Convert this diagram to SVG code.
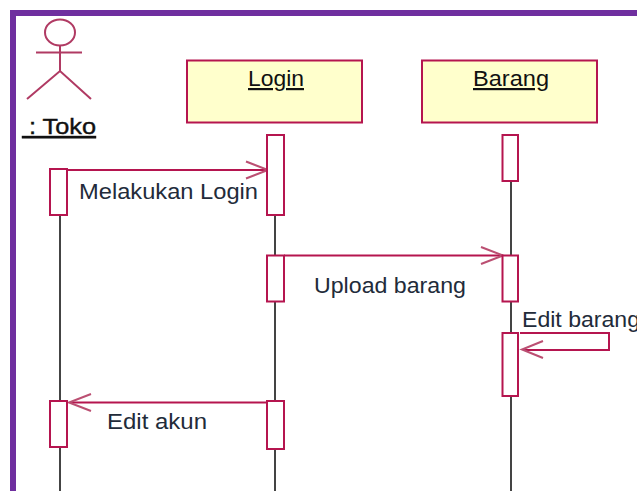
<svg xmlns="http://www.w3.org/2000/svg" width="637" height="491" viewBox="0 0 637 491">
<style>
.b{fill:#ffffcc;stroke:#b5154f;stroke-width:2}
.a{fill:#fff;stroke:#b5154f;stroke-width:2}
.l{stroke:#444;stroke-width:2;fill:none}
.m{stroke:#b5154f;stroke-width:2;fill:none}
.h{stroke:#bb4f72;stroke-width:2;fill:none}
.s{stroke:#b03a63;stroke-width:2;fill:none}
text{font-family:"Liberation Sans",Arial,sans-serif;font-size:22px;fill:#222b3a}
.u{text-decoration:underline;fill:#111}
</style>
<rect width="637" height="491" fill="#fff"/>
<path d="M13 491V13H637" fill="none" stroke="#6f2f9f" stroke-width="6"/>
<g id="connectors">
<path class="l" d="M60 215V491M275 215V491M511 181V491"/>
<path class="m" d="M67 170H268M284 255.500H503M520 333H609V350H523M266 402.500H70"/>
<path class="h" d="M246 161.500 268 170 246 178.500M481 247 503 255.500 481 264M543 341 522 349.500 543 358M91 394 69 402.500 91 411"/>
</g>
<g id="toko">
<ellipse class="s" cx="60" cy="32.500" rx="15" ry="13"/>
<path class="s" d="M60 46V71M36 52.500H82M27 99 60 71 91 99"/>
<text class="u" x="22" y="134" xml:space="preserve" textLength="74" lengthAdjust="spacingAndGlyphs" stroke="#111" stroke-width="0.4"> : Toko</text>
</g>
<g id="login">
<rect class="b" x="187" y="60.500" width="175" height="62"/>
<text class="u" x="248" y="86" textLength="56" lengthAdjust="spacingAndGlyphs">Login</text>
</g>
<g id="barang">
<rect class="b" x="422" y="60.500" width="175" height="62"/>
<text class="u" x="473" y="86" textLength="76" lengthAdjust="spacingAndGlyphs">Barang</text>
</g>
<g id="activations">
<rect class="a" x="267" y="135" width="17" height="80"/>
<rect class="a" x="50" y="169" width="17" height="46"/>
<rect class="a" x="502.500" y="135" width="15.500" height="46"/>
<rect class="a" x="267" y="255.500" width="17" height="46"/>
<rect class="a" x="502.500" y="255.500" width="15.500" height="46"/>
<rect class="a" x="502.500" y="333" width="15.500" height="63"/>
<rect class="a" x="50" y="401" width="17" height="46"/>
<rect class="a" x="267" y="401" width="17" height="48"/>
</g>
<g id="labels">
<text x="79" y="199" textLength="179" lengthAdjust="spacingAndGlyphs">Melakukan Login</text>
<text x="314" y="293" textLength="152" lengthAdjust="spacingAndGlyphs">Upload barang</text>
<text x="522" y="327" textLength="118" lengthAdjust="spacingAndGlyphs">Edit barang</text>
<text x="107" y="429" textLength="100" lengthAdjust="spacingAndGlyphs">Edit akun</text>
</g>
</svg>
